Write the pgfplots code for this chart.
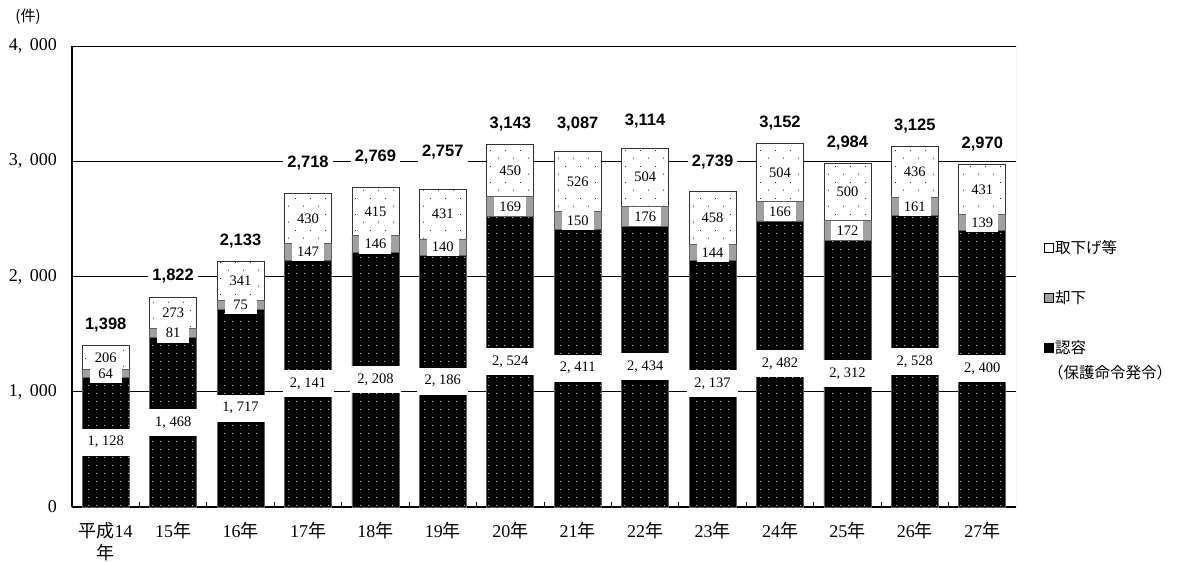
\documentclass[border=0pt]{standalone}
\usepackage{fontspec}
\setmainfont{Liberation Serif}
\newfontfamily\jp{Noto Sans CJK JP}
\newfontfamily\arialfont{Liberation Sans}
\usepackage{pgfplots}
\pgfplotsset{compat=1.18}
\usepackage{pgfplotstable}
\usetikzlibrary{patterns.meta}

% white dots on the black segments
\tikzdeclarepattern{
  name=lightdots, type=uncolored,
  bounding box={(0pt,0pt) and (7.7pt,7.7pt)},
  tile size={(7.7pt,7.7pt)},
  code={\fill (3.85pt,3.85pt) circle (0.55pt);}
}
% sparse black dots on the white segments
\tikzdeclarepattern{
  name=sparsedots, type=uncolored,
  bounding box={(0pt,0pt) and (15pt,16pt)},
  tile size={(15pt,16pt)},
  code={\fill (3.75pt,4pt) circle (0.55pt); \fill (11.25pt,12pt) circle (0.55pt);}
}

\definecolor{rejgray}{HTML}{A0A0A0}
\definecolor{edgegray}{HTML}{606060}

% x: year index, a: granted, b: dismissed, c: withdrawn etc., total, ty: height of total label
\pgfplotstableread{
x a    b   c   total ty
0 1128 64  206 1398 1579
1 1468 81  273 1822 2004
2 1717 75  341 2133 2308
3 2141 147 430 2718 2985
4 2208 146 415 2769 3037
5 2186 140 431 2757 3080
6 2524 169 450 3143 3323
7 2411 150 526 3087 3323
8 2434 176 504 3114 3349
9 2137 144 458 2739 2993
10 2482 166 504 3152 3332
11 2312 172 500 2984 3158
12 2528 161 436 3125 3306
13 2400 139 431 2970 3150
}\cases

\newcommand{\numfont}{\fontsize{14.5}{16}\selectfont}
\newcommand{\totfont}{\arialfont\bfseries\fontsize{16.5}{18}\selectfont}

\begin{document}
\begin{tikzpicture}
\path[use as bounding box] (0,0) rectangle (1189pt,-562pt);

\begin{axis}[
  at={(72pt,-507pt)}, anchor=south west,
  scale only axis, width=944pt, height=461pt,
  ybar stacked, bar width=47pt,
  xmin=-0.5, xmax=13.5, ymin=0, ymax=4000,
  enlargelimits=false,
  axis x line*=bottom, axis y line*=left,
  axis line style={line width=1.6pt, black},
  ymajorgrids, grid style={black, line width=0.8pt},
  ytick={0,1000,2000,3000,4000},
  yticklabels={0,{1,\ \,000},{2,\ \,000},{3,\ \,000},{4,\ \,000}},
  ytick style={draw=none},
  yticklabel style={anchor=east, inner sep=0pt, xshift=-15pt, font=\fontsize{18}{20}\selectfont},
  xtick={0,...,13},
  xticklabels={{{\jp 平成}14\\{\jp 年}},{15{\jp 年}},{16{\jp 年}},{17{\jp 年}},{18{\jp 年}},{19{\jp 年}},{20{\jp 年}},{21{\jp 年}},{22{\jp 年}},{23{\jp 年}},{24{\jp 年}},{25{\jp 年}},{26{\jp 年}},{27{\jp 年}}},
  xticklabel style={anchor=north, align=center, inner sep=0pt, yshift=-15pt, font=\fontsize{18}{22}\selectfont},
  major x tick style={draw=none},
  minor x tick num=1,
  minor x tick style={black, line width=0.8pt},
  minor tick length=5pt,
  tick align=inside,
]
\addplot[fill=black, draw=edgegray, line width=0.8pt,
  postaction={pattern=lightdots, pattern color=white}]
  table[x=x, y=a] {\cases};
\addplot[fill=rejgray, draw=edgegray, line width=0.8pt]
  table[x=x, y=b] {\cases};
\addplot[fill=white, draw=black!80, line width=0.8pt,
  postaction={pattern=sparsedots, pattern color=black}]
  table[x=x, y=c] {\cases};
\draw[gray, line width=0.8pt] (rel axis cs:1,0) -- (rel axis cs:1,1);
\end{axis}

% value labels
\begin{axis}[
  at={(72pt,-507pt)}, anchor=south west,
  scale only axis, width=944pt, height=461pt,
  xmin=-0.5, xmax=13.5, ymin=0, ymax=4000,
  hide axis, clip=false,
]
\addplot[draw=none, mark=none, point meta=\thisrow{a},
  nodes near coords={\pgfmathprintnumber[assume math mode=true, 1000 sep={,\ }]{\pgfplotspointmeta}},
  every node near coord/.append style={anchor=center, fill=white, inner sep=0pt,
    minimum width=51pt, minimum height=27pt, font=\numfont}]
  table[x=x, y expr=\thisrow{a}/2] {\cases};
\addplot[draw=none, mark=none, point meta=\thisrow{b},
  nodes near coords={\pgfmathprintnumber[assume math mode=true]{\pgfplotspointmeta}},
  every node near coord/.append style={anchor=center, fill=white, inner sep=0pt,
    minimum width=32pt, minimum height=19pt, font=\numfont}]
  table[x=x, y expr=\thisrow{a}+\thisrow{b}/2] {\cases};
\addplot[draw=none, mark=none, point meta=\thisrow{c},
  nodes near coords={\pgfmathprintnumber[assume math mode=true]{\pgfplotspointmeta}},
  every node near coord/.append style={anchor=center, fill=white, inner sep=0pt,
    minimum width=28pt, minimum height=18pt, font=\numfont}]
  table[x=x, y expr=\thisrow{a}+\thisrow{b}+\thisrow{c}/2] {\cases};
\addplot[draw=none, mark=none, point meta=\thisrow{total},
  nodes near coords={\pgfmathprintnumber[assume math mode=true, 1000 sep={,}]{\pgfplotspointmeta}},
  every node near coord/.append style={anchor=center, fill=white, inner sep=4pt, font=\totfont}]
  table[x=x, y=ty] {\cases};
\end{axis}

% unit
\node[font=\jp\fontsize{15}{17}\selectfont] at (28pt,-17pt) {(件)};

% legend
\begin{scope}[font=\jp\fontsize{15.5}{18}\selectfont]
\draw[black, line width=0.6pt, fill=white] (1044.5pt,-243pt) rectangle (1053.5pt,-252pt);
\node[anchor=west, inner sep=0pt] at (1055pt,-247.5pt) {取下げ等};
\draw[black, line width=0.6pt, fill=rejgray] (1044.5pt,-293.5pt) rectangle (1053.5pt,-302.5pt);
\node[anchor=west, inner sep=0pt] at (1055pt,-298pt) {却下};
\fill[black] (1044pt,-343pt) rectangle (1054pt,-353pt);
\node[anchor=west, inner sep=0pt] at (1055pt,-348pt) {認容};
\node[anchor=west, inner sep=0pt] at (1048pt,-373pt) {（保護命令発令）};
\end{scope}
\end{tikzpicture}
\end{document}
